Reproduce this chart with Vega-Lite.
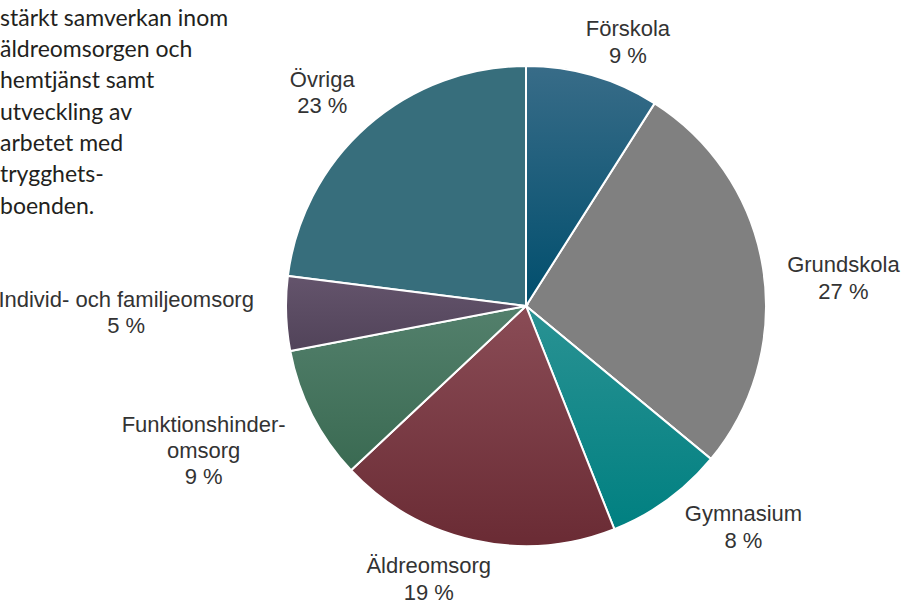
{
  "$schema": "https://vega.github.io/schema/vega-lite/v6.json",
  "width": 764,
  "height": 590,
  "autosize": {"type": "none"},
  "padding": {"left": 144, "top": 11, "right": 0, "bottom": 0},
  "background": "white",
  "config": {"view": {"stroke": null}},
  "title": {
    "text": ["stärkt samverkan inom", "äldreomsorgen och", "hemtjänst samt", "utveckling av", "arbetet med", "trygghets-", "boenden."],
    "anchor": "start",
    "frame": "group",
    "orient": "top",
    "align": "left",
    "baseline": "alphabetic",
    "font": "Lato",
    "fontSize": 23,
    "fontWeight": "normal",
    "color": "#231f20",
    "lineHeight": 31.3,
    "dx": -144,
    "dy": 233,
    "offset": -14
  },
  "data": {
    "values": [
      {"i": 1, "cat": "Förskola", "pct": 9, "label": "Förskola\n9 %"},
      {"i": 2, "cat": "Grundskola", "pct": 27, "label": "Grundskola\n27 %"},
      {"i": 3, "cat": "Gymnasium", "pct": 8, "label": "Gymnasium\n8 %"},
      {"i": 4, "cat": "Äldreomsorg", "pct": 19, "label": "Äldreomsorg\n19 %"},
      {"i": 5, "cat": "Funktionshinderomsorg", "pct": 9, "label": "Funktionshinder-\nomsorg\n9 %"},
      {"i": 6, "cat": "Individ- och familjeomsorg", "pct": 5, "label": "Individ- och familjeomsorg\n5 %"},
      {"i": 7, "cat": "Övriga", "pct": 23, "label": "Övriga\n23 %"}
    ]
  },
  "encoding": {
    "theta": {"field": "pct", "type": "quantitative", "stack": true},
    "order": {"field": "i", "type": "quantitative"}
  },
  "layer": [
    {
      "mark": {"type": "arc", "outerRadius": 240, "stroke": "white", "strokeWidth": 2},
      "encoding": {
        "color": {
          "field": "cat",
          "type": "nominal",
          "scale": {
            "domain": ["Förskola", "Grundskola", "Gymnasium", "Äldreomsorg", "Funktionshinderomsorg", "Individ- och familjeomsorg", "Övriga"],
            "range": ["#1c5c7c", "#808080", "#0c8787", "#783a42", "#45745e", "#5a4a63", "#376e7c"]
          },
          "legend": null
        }
      }
    },
    {
      "mark": {"type": "arc", "outerRadius": 240, "stroke": "white", "strokeWidth": 2,
        "fill": {"gradient": "linear", "x1": 0, "y1": 0, "x2": 0, "y2": 1, "stops": [{"offset": 0, "color": "#386c88"}, {"offset": 1, "color": "#004e6d"}]}},
      "encoding": {"opacity": {"condition": {"test": "datum.cat === 'Förskola'", "value": 1}, "value": 0}}
    },
    {
      "mark": {"type": "arc", "outerRadius": 240, "stroke": "white", "strokeWidth": 2,
        "fill": {"gradient": "linear", "x1": 0, "y1": 0, "x2": 0, "y2": 1, "stops": [{"offset": 0, "color": "#2a9293"}, {"offset": 1, "color": "#008081"}]}},
      "encoding": {"opacity": {"condition": {"test": "datum.cat === 'Gymnasium'", "value": 1}, "value": 0}}
    },
    {
      "mark": {"type": "arc", "outerRadius": 240, "stroke": "white", "strokeWidth": 2,
        "fill": {"gradient": "linear", "x1": 0, "y1": 0, "x2": 0, "y2": 1, "stops": [{"offset": 0, "color": "#8a4c56"}, {"offset": 1, "color": "#6a2b34"}]}},
      "encoding": {"opacity": {"condition": {"test": "datum.cat === 'Äldreomsorg'", "value": 1}, "value": 0}}
    },
    {
      "mark": {"type": "arc", "outerRadius": 240, "stroke": "white", "strokeWidth": 2,
        "fill": {"gradient": "linear", "x1": 0, "y1": 0, "x2": 0, "y2": 1, "stops": [{"offset": 0, "color": "#53806c"}, {"offset": 1, "color": "#3a6a52"}]}},
      "encoding": {"opacity": {"condition": {"test": "datum.cat === 'Funktionshinderomsorg'", "value": 1}, "value": 0}}
    },
    {
      "mark": {"type": "arc", "outerRadius": 240, "stroke": "white", "strokeWidth": 2,
        "fill": {"gradient": "linear", "x1": 0, "y1": 0, "x2": 0, "y2": 1, "stops": [{"offset": 0, "color": "#64546c"}, {"offset": 1, "color": "#514359"}]}},
      "encoding": {"opacity": {"condition": {"test": "datum.cat === 'Individ- och familjeomsorg'", "value": 1}, "value": 0}}
    },
    {
      "mark": {"type": "text", "font": "Liberation Sans", "fontSize": 22, "fill": "#333333", "lineBreak": "\n", "lineHeight": 27, "align": "center", "baseline": "alphabetic", "dx": 21, "dy": 8},
      "encoding": {"radius": {"value": 290}, "text": {"condition": {"test": "datum.cat === 'Förskola'", "field": "label"}, "value": ""}}
    },
    {
      "mark": {"type": "text", "font": "Liberation Sans", "fontSize": 22, "fill": "#333333", "lineBreak": "\n", "lineHeight": 27, "align": "center", "baseline": "alphabetic", "dx": 31, "dy": 11},
      "encoding": {"radius": {"value": 290}, "text": {"condition": {"test": "datum.cat === 'Grundskola'", "field": "label"}, "value": ""}}
    },
    {
      "mark": {"type": "text", "font": "Liberation Sans", "fontSize": 22, "fill": "#333333", "lineBreak": "\n", "lineHeight": 27, "align": "center", "baseline": "alphabetic", "dx": 47, "dy": -20},
      "encoding": {"radius": {"value": 290}, "text": {"condition": {"test": "datum.cat === 'Gymnasium'", "field": "label"}, "value": ""}}
    },
    {
      "mark": {"type": "text", "font": "Liberation Sans", "fontSize": 22, "fill": "#333333", "lineBreak": "\n", "lineHeight": 27, "align": "center", "baseline": "alphabetic", "dx": -34, "dy": -16},
      "encoding": {"radius": {"value": 290}, "text": {"condition": {"test": "datum.cat === 'Äldreomsorg'", "field": "label"}, "value": ""}}
    },
    {
      "mark": {"type": "text", "font": "Liberation Sans", "fontSize": 22, "fill": "#333333", "lineBreak": "\n", "lineHeight": 26, "align": "center", "baseline": "alphabetic", "dx": -64, "dy": -6},
      "encoding": {"radius": {"value": 290}, "text": {"condition": {"test": "datum.cat === 'Funktionshinderomsorg'", "field": "label"}, "value": ""}}
    },
    {
      "mark": {"type": "text", "font": "Liberation Sans", "fontSize": 22, "fill": "#333333", "lineBreak": "\n", "lineHeight": 26, "align": "center", "baseline": "alphabetic", "dx": -110, "dy": -8},
      "encoding": {"radius": {"value": 290}, "text": {"condition": {"test": "datum.cat === 'Individ- och familjeomsorg'", "field": "label"}, "value": ""}}
    },
    {
      "mark": {"type": "text", "font": "Liberation Sans", "fontSize": 22, "fill": "#333333", "lineBreak": "\n", "lineHeight": 26, "align": "center", "baseline": "alphabetic", "dx": -12, "dy": -1},
      "encoding": {"radius": {"value": 290}, "text": {"condition": {"test": "datum.cat === 'Övriga'", "field": "label"}, "value": ""}}
    }
  ]
}
